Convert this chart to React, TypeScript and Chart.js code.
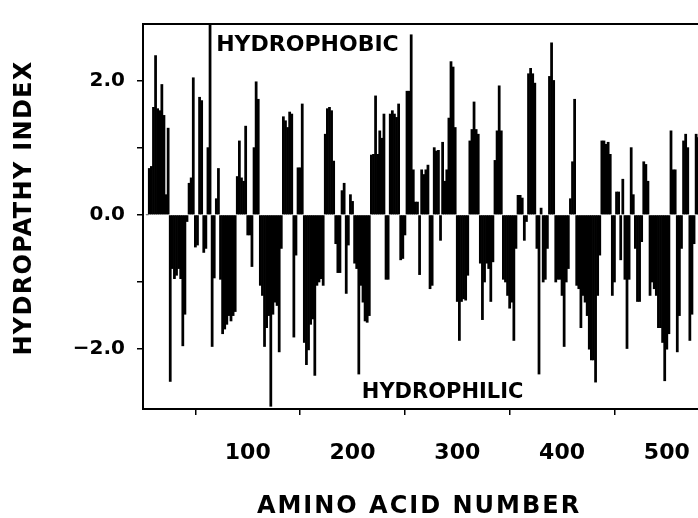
import { useEffect, useRef } from "react";
import { Chart, registerables } from "chart.js";

Chart.register(...registerables);

// Residue number of the first bar and spacing between bars (amino acids)
const FIRST_RESIDUE = 4;
const RESIDUE_STEP = 2;

// Hydropathy index, one value per 2 residues, starting at residue 4
const hydropathy = [
  0, 0.69, 0.72, 1.6, 2.37, 1.58, 1.55, 1.94, 1.48, 0.3, 1.29, // 4-24
  -2.48, -0.8, -0.95, -0.9, -0.8, -0.95, -1.95, -1.48, -0.1, // 26-42
  0.47, 0.55, 2.04, -0.48, -0.45, 1.75, 1.7, -0.56, -0.5, 1.0, 2.9, // 44-64
  -1.96, -0.94, 0.24, 0.69, -0.96, -1.77, -1.7, -1.63, -1.5, -1.58, -1.5, -1.44, // 66-88
  0.57, 1.1, 0.55, 0.5, 1.32, -0.3, -0.3, -0.77, 1.0, 1.98, 1.72, // 90-110
  -1.05, -1.2, -1.96, -1.68, -1.5, -2.85, -1.48, -1.3, -1.35, -2.04, -0.5, // 112-132
  1.46, 1.4, 1.3, 1.53, 1.5, -1.82, -0.6, 0.7, 0.7, 1.65, // 134-152
  -1.9, -2.23, -2.01, -1.63, -1.55, -2.39, -1.05, -1.0, -0.95, -1.05, // 154-172
  1.2, 1.58, 1.6, 1.55, 0.8, -0.43, -0.86, -0.86, 0.36, 0.47, -1.17, -0.45, 0.3, 0.2, // 174-200
  -0.72, -0.8, -2.37, -1.05, -1.3, -1.58, -1.6, -1.5, // 202-216
  0.89, 0.9, 1.77, 0.9, 1.25, 1.14, 1.5, -0.96, -0.96, // 218-234
  1.5, 1.55, 1.5, 1.45, 1.65, -0.67, -0.65, -0.3, // 236-250
  1.84, 1.84, 2.68, 0.67, 0.19, 0.19, -0.89, 0.67, 0.6, 0.67, 0.74, -1.1, -1.05, // 252-276
  1.0, 0.95, 0.96, -0.38, 1.08, 0.5, 0.67, 1.44, 2.28, 2.2, 1.3, // 278-298
  -1.29, -1.87, -1.29, -1.25, -1.27, -0.9, 1.1, 1.27, 1.68, 1.27, 1.2, // 300-320
  -0.72, -1.56, -1.0, -0.72, -0.8, -1.29, -0.7, 0.81, 1.25, 1.92, 1.25, // 322-342
  -0.96, -1.0, -1.2, -1.39, -1.3, -1.87, -0.5, 0.29, 0.29, 0.25, -0.38, -0.1, // 344-366
  2.1, 2.18, 2.1, 1.96, -0.5, -2.37, 0.1, -1.0, -0.96, -0.5, 2.06, 2.56, 2.0, // 368-392
  -1.0, -0.96, -0.96, -1.2, -1.96, -1.0, -0.8, 0.24, 0.79, 1.72, // 394-412
  -1.05, -1.1, -1.68, -1.2, -1.3, -1.5, -2.0, -2.16, -2.16, -2.49, -1.2, -0.6, // 414-436
  1.1, 1.1, 1.05, 1.08, 0.9, -1.2, -1.0, 0.34, 0.34, -0.67, 0.53, // 438-458
  -0.96, -1.99, -0.96, 1.0, 0.3, -0.5, -1.29, -1.29, -0.4, 0.79, 0.75, 0.5, // 460-482
  -1.2, -1.0, -1.1, -1.2, -1.68, -1.68, -1.9, -2.47, -2.0, -1.77, // 484-502
  1.25, 0.67, 0.67, -2.04, -1.5, -0.5, 1.1, 1.2, 1.0, -1.87, -1.48, -0.43, 1.2, 1.15, -0.4, // 504-532
];

const xTickValues = [100, 200, 300, 400, 500];
const yTickValues = [-2, -1, 0, 1, 2];
const yTickLabels: Record<string, string> = { "2": "2.0", "0": "0.0", "-2": "\u22122.0" };

const xAxisTitle = "AMINO ACID NUMBER";
const yAxisTitle = "HYDROPATHY INDEX";
const upperNote = { text: "HYDROPHOBIC", residue: 157, value: 2.52 };
const lowerNote = { text: "HYDROPHILIC", residue: 286, value: -2.65 };

const X_MIN = 0;
const X_MAX = 546;
const Y_MIN = -2.89;
const Y_MAX = 2.84;

const FONT = "'DejaVu Sans', 'Liberation Sans', sans-serif";

export default function App() {
  const canvasRef = useRef<HTMLCanvasElement | null>(null);

  useEffect(() => {
    const canvas = canvasRef.current;
    if (!canvas) return;

    const points = hydropathy.map((v, i) => ({ x: FIRST_RESIDUE + i * RESIDUE_STEP, y: v }));

    const framePlugin = {
      id: "frameAndNotes",
      afterDatasetsDraw(chart: any) {
        const { ctx, chartArea } = chart;
        ctx.save();
        ctx.strokeStyle = "#000";
        ctx.lineWidth = 2;
        ctx.strokeRect(chartArea.left, chartArea.top, chartArea.right - chartArea.left, chartArea.bottom - chartArea.top);
        ctx.restore();
      },
      afterDraw(chart: any) {
        const { ctx } = chart;
        const xs = chart.scales.x;
        const ys = chart.scales.y;
        ctx.save();
        ctx.fillStyle = "#000";
        ctx.textAlign = "center";
        ctx.textBaseline = "middle";

        ctx.font = `bold 22px ${FONT}`;
        ctx.fillText(upperNote.text, xs.getPixelForValue(upperNote.residue), ys.getPixelForValue(upperNote.value));
        ctx.font = `bold 21px ${FONT}`;
        ctx.fillText(lowerNote.text, xs.getPixelForValue(lowerNote.residue), ys.getPixelForValue(lowerNote.value));

        // axis titles
        ctx.font = `bold 24px ${FONT}`;
        (ctx as any).letterSpacing = "2px";
        ctx.fillText(xAxisTitle, 419, 507);
        (ctx as any).letterSpacing = "1.3px";
        ctx.translate(25, 208);
        ctx.rotate(-Math.PI / 2);
        ctx.fillText(yAxisTitle, 0, 0);
        ctx.restore();
      },
    };

    const chart = new Chart(canvas, {
      type: "bar",
      data: {
        datasets: [
          {
            data: points as any,
            backgroundColor: "#000",
            borderWidth: 0,
            barPercentage: 1,
            categoryPercentage: 1,
            grouped: false,
          } as any,
        ],
      },
      options: {
        responsive: false,
        maintainAspectRatio: false,
        animation: false,
        devicePixelRatio: 1,
        layout: { padding: { top: 13, right: 5, left: 0, bottom: 0 } },
        plugins: { legend: { display: false }, tooltip: { enabled: false } },
        scales: {
          x: {
            type: "linear",
            min: X_MIN,
            max: X_MAX,
            offset: false,
            afterBuildTicks: (s: any) => {
              s.ticks = xTickValues.map((v) => ({ value: v }));
            },
            afterFit: (s: any) => {
              s.height = 109;
            },
            grid: { drawOnChartArea: false, drawTicks: true, tickLength: 6, color: "#000", lineWidth: 1.5 },
            border: { display: false },
            ticks: {
              color: "#000",
              font: { family: FONT, size: 22, weight: "bold" },
              padding: 25,
              maxRotation: 0,
              autoSkip: false,
              callback: (v: any) => String(v),
            },
          },
          y: {
            type: "linear",
            min: Y_MIN,
            max: Y_MAX,
            afterBuildTicks: (s: any) => {
              s.ticks = yTickValues.map((v) => ({ value: v }));
            },
            afterFit: (s: any) => {
              s.width = 143;
            },
            grid: { drawOnChartArea: false, drawTicks: true, tickLength: 6, color: "#000", lineWidth: 1.5 },
            border: { display: false },
            ticks: {
              color: "#000",
              font: { family: FONT, size: 20, weight: "bold" },
              padding: 12,
              autoSkip: false,
              callback: (v: any) => yTickLabels[String(v)] ?? "",
            },
          },
        },
      } as any,
      plugins: [framePlugin],
    });

    return () => chart.destroy();
  }, []);

  return (
    <div
      style={{
        position: "absolute",
        left: 0,
        top: 0,
        width: 698,
        height: 518,
        overflow: "hidden",
        background: "#fff",
      }}
    >
      <canvas ref={canvasRef} width={720} height={518} style={{ display: "block", width: 720, height: 518 }} />
    </div>
  );
}
